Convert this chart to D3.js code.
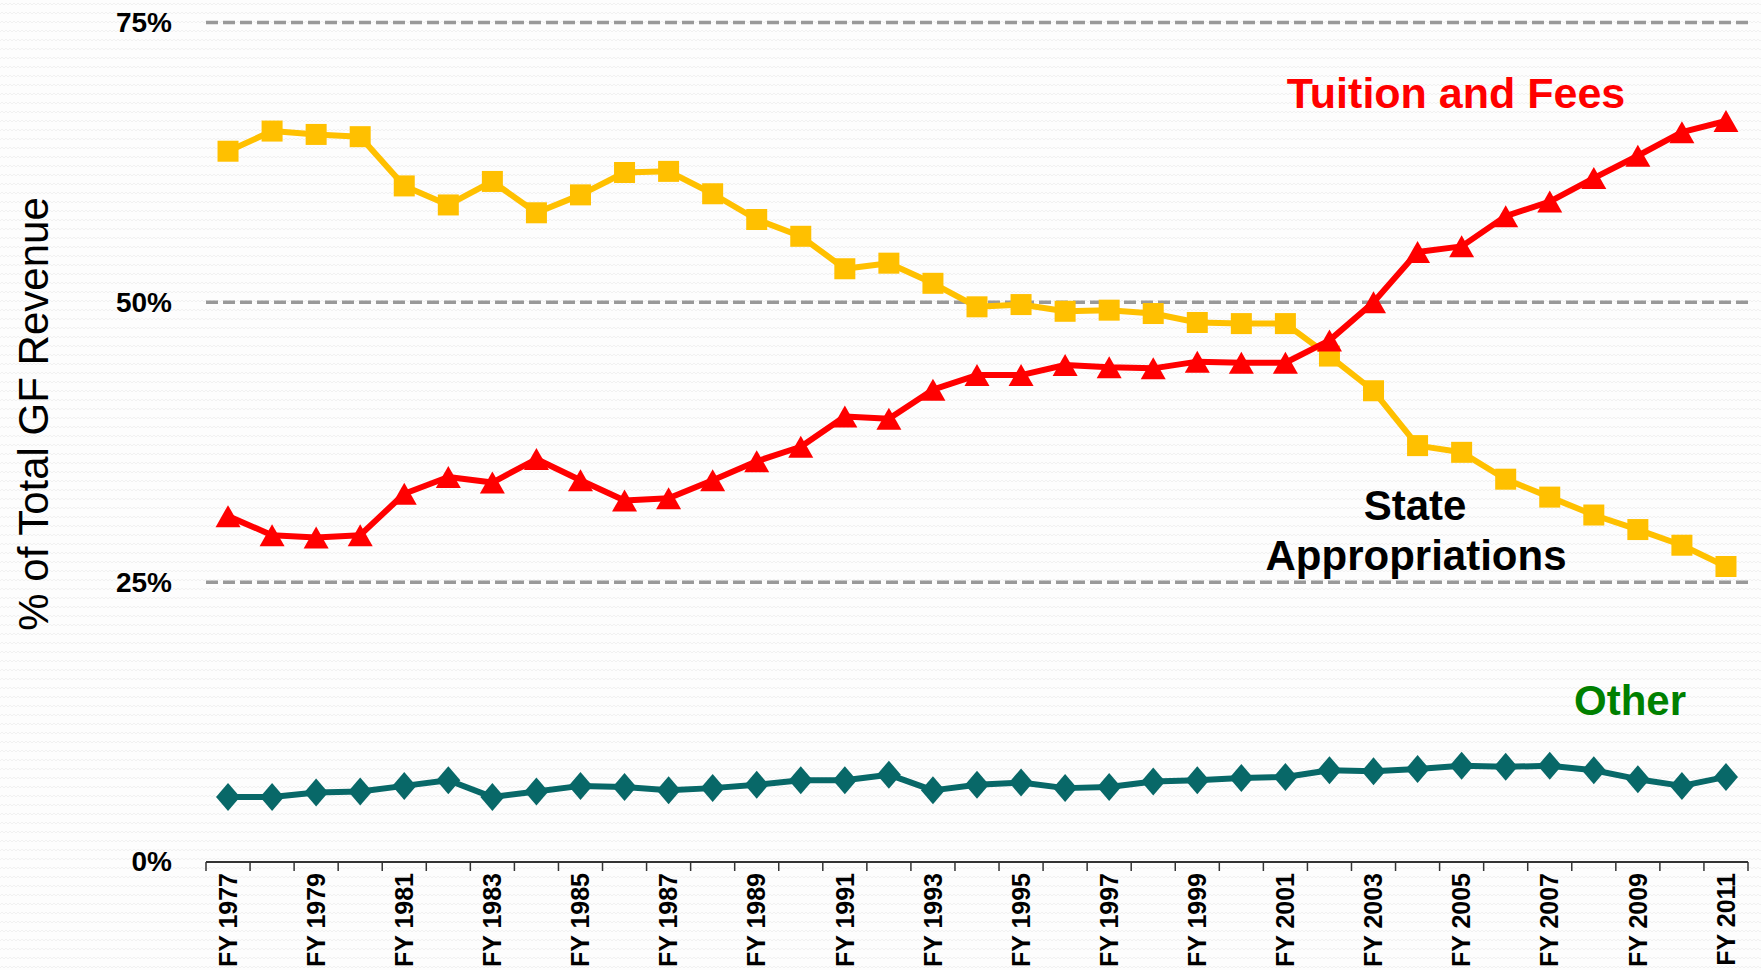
<!DOCTYPE html>
<html>
<head>
<meta charset="utf-8">
<script src="https://cdn.jsdelivr.net/npm/d3@7"></script>
<style>
  html, body { margin: 0; padding: 0; background: #ffffff; }
  svg { display: block; }
  text { font-family: "Liberation Sans", Arial, Helvetica, sans-serif; }
</style>
</head>
<body>
<svg id="chart" width="1761" height="970"></svg>
<script>
const years = ["1977","1978","1979","1980","1981","1982","1983","1984","1985","1986",
  "1987","1988","1989","1990","1991","1992","1993","1994","1995","1996",
  "1997","1998","1999","2000","2001","2002","2003","2004","2005","2006",
  "2007","2008","2009","2010","2011"];

const stateApprop = [63.5,65.3,65.0,64.8,60.4,58.7,60.8,58.0,59.6,61.6,
  61.7,59.7,57.4,55.9,53.0,53.5,51.7,49.6,49.8,49.2,
  49.3,49.0,48.2,48.1,48.1,45.2,42.1,37.2,36.6,34.2,
  32.6,31.0,29.7,28.3,26.4];

const tuitionFees = [30.9,29.2,29.0,29.2,32.9,34.4,33.9,36.0,34.1,32.3,
  32.5,34.1,35.8,37.1,39.8,39.6,42.2,43.5,43.5,44.4,
  44.2,44.1,44.7,44.6,44.6,46.6,50.0,54.5,55.0,57.7,
  59.0,61.1,63.1,65.2,66.2];

const other = [5.8,5.8,6.2,6.3,6.8,7.3,5.8,6.3,6.8,6.7,
  6.4,6.6,6.9,7.3,7.3,7.8,6.4,6.9,7.1,6.6,
  6.7,7.2,7.3,7.5,7.6,8.2,8.1,8.3,8.6,8.5,
  8.6,8.2,7.4,6.8,7.6];

const yTicks = [0, 25, 50, 75];
const xLabelYears = ["1977","1979","1981","1983","1985","1987","1989","1991","1993","1995",
  "1997","1999","2001","2003","2005","2007","2009","2011"];

const svg = d3.select("#chart");

// subtle textured background
const defs = svg.append("defs");
const pat = defs.append("pattern").attr("id","bgtex").attr("patternUnits","userSpaceOnUse")
  .attr("width",8).attr("height",9);
pat.append("rect").attr("width",8).attr("height",9).attr("fill","#fdfdfd");
pat.append("path").attr("d","M0,5 L2,3 L4,5 L6,3 L8,5").attr("fill","none")
  .attr("stroke","#f1f1f1").attr("stroke-width",1);
svg.append("rect").attr("width",1761).attr("height",970).attr("fill","url(#bgtex)");

const X0 = 206, X1 = 1748;
const x = d3.scaleBand().domain(years).range([X0, X1]).paddingInner(0).paddingOuter(0);
const y = d3.scaleLinear().domain([0, 75]).range([862, 22.5]);
const cx = d => x(d) + x.bandwidth() / 2;

// gridlines
svg.append("g").selectAll("line").data(yTicks.filter(d => d > 0)).join("line")
  .attr("x1", X0).attr("x2", X1)
  .attr("y1", d => y(d)).attr("y2", d => y(d))
  .attr("stroke", "#999999").attr("stroke-width", 3.5).attr("stroke-dasharray", "12,5");

// y axis labels
const yAxis = d3.axisLeft(y).tickValues(yTicks).tickFormat(d => d + "%").tickSize(0).tickPadding(34);
const gy = svg.append("g").attr("transform", `translate(${X0},0)`).call(yAxis);
gy.select(".domain").remove();
gy.selectAll("text").attr("font-size", 28).attr("font-weight", "bold").attr("fill", "#000")
  .style("font-family", '"Liberation Sans", Arial, sans-serif');

// y axis title
svg.append("text").attr("transform", "translate(48,414) rotate(-90)")
  .attr("text-anchor", "middle").attr("font-size", 42).attr("fill", "#000")
  .text("% of Total GF Revenue");

// x axis line and tick marks
const gx = svg.append("g");
gx.append("line").attr("x1", X0).attr("x2", X1).attr("y1", 862).attr("y2", 862)
  .attr("stroke", "#333").attr("stroke-width", 2);
const tickPos = years.map(d => x(d)).concat([x(years[years.length - 1]) + x.bandwidth()]);
gx.selectAll("line.tick").data(tickPos).join("line").attr("class", "tick")
  .attr("x1", d => d).attr("x2", d => d).attr("y1", 862).attr("y2", 871)
  .attr("stroke", "#333").attr("stroke-width", 1.5);

// x labels via axis
const xAxis = d3.axisBottom(x).tickValues(xLabelYears).tickFormat(d => "FY " + d).tickSize(0);
const gxl = svg.append("g").attr("transform", "translate(0,862)").call(xAxis);
gxl.select(".domain").remove();
gxl.selectAll("text")
  .attr("font-size", 25).attr("font-weight", "bold").attr("fill", "#000")
  .style("font-family", '"Liberation Sans", Arial, sans-serif')
  .attr("text-anchor", "end").attr("dy", "0.35em")
  .attr("transform", "translate(0,11) rotate(-90)")
  .attr("x", 0).attr("y", 0);

// lines
const line = vals => d3.line().x((d, i) => cx(years[i])).y(d => y(d))(vals);

function drawSeries(vals, color, width) {
  svg.append("path").attr("d", line(vals)).attr("fill", "none")
    .attr("stroke", color).attr("stroke-width", width).attr("stroke-linejoin", "round");
}

// Other (teal diamonds)
drawSeries(other, "#086868", 6);
svg.append("g").selectAll("path").data(other).join("path")
  .attr("d", (d, i) => {
    const px = cx(years[i]), py = y(d), w = 12, h = 14;
    return `M${px},${py - h}L${px + w},${py}L${px},${py + h}L${px - w},${py}Z`;
  }).attr("fill", "#086868");

// State Appropriations (yellow squares)
drawSeries(stateApprop, "#FFC000", 6);
svg.append("g").selectAll("rect").data(stateApprop).join("rect")
  .attr("x", (d, i) => cx(years[i]) - 10.5).attr("y", d => y(d) - 10.5)
  .attr("width", 21).attr("height", 21).attr("fill", "#FFC000");

// Tuition and Fees (red triangles)
drawSeries(tuitionFees, "#FF0000", 6);
svg.append("g").selectAll("path").data(tuitionFees).join("path")
  .attr("d", (d, i) => {
    const px = cx(years[i]), py = y(d), w = 12.5, h = 11;
    return `M${px},${py - h}L${px + w},${py + h}L${px - w},${py + h}Z`;
  }).attr("fill", "#FF0000");

// series labels
svg.append("text").attr("x", 1456).attr("y", 108).attr("text-anchor", "middle")
  .attr("font-size", 43).attr("font-weight", "bold").attr("fill", "#FF0000")
  .text("Tuition and Fees");
svg.append("text").attr("x", 1415).attr("y", 520).attr("text-anchor", "middle")
  .attr("font-size", 42).attr("font-weight", "bold").attr("fill", "#000")
  .text("State");
svg.append("text").attr("x", 1416).attr("y", 570).attr("text-anchor", "middle")
  .attr("font-size", 42).attr("font-weight", "bold").attr("fill", "#000")
  .text("Appropriations");
svg.append("text").attr("x", 1630).attr("y", 715).attr("text-anchor", "middle")
  .attr("font-size", 42).attr("font-weight", "bold").attr("fill", "#008000")
  .text("Other");
</script>
</body>
</html>
